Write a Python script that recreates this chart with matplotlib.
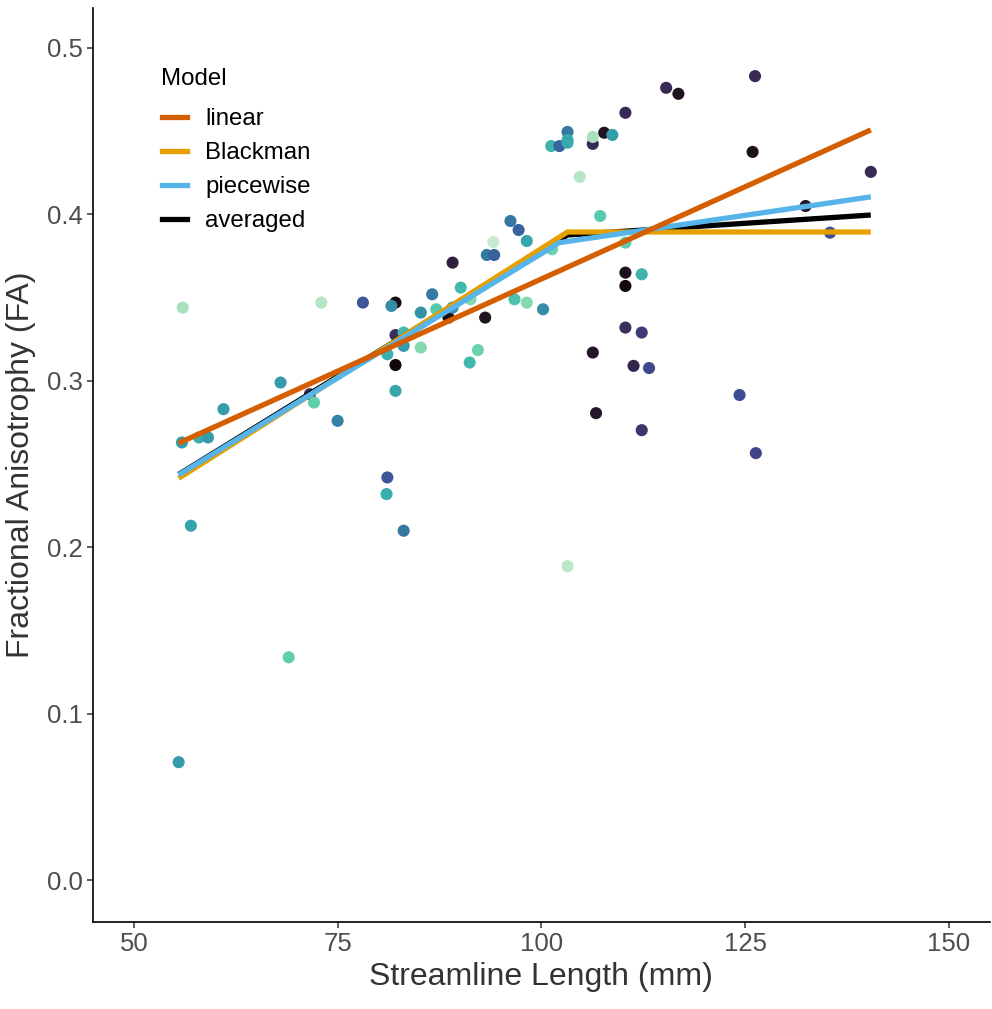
import matplotlib
matplotlib.use("Agg")
import matplotlib.pyplot as plt
import seaborn as sns
import numpy as np

plt.rcParams['font.family'] = ['Liberation Sans', 'DejaVu Sans']

# streamline length (mm), FA, and colour value (0 = dark, 1 = light) for each subject
length = [56.0, 55.9, 58.0, 59.1, 57.0, 61.0, 68.0, 71.6, 72.1, 73.0, 75.0, 69.0, 55.5,
          78.1, 82.1, 81.6, 82.1, 83.1, 83.1, 81.1, 82.1, 82.1, 85.2, 85.2, 86.6, 87.1,
          90.1, 91.3, 88.6, 89.1, 93.1, 92.2, 91.2, 83.1, 81.1, 81.0, 89.1, 93.3, 94.2,
          94.1, 96.2, 97.2, 98.2, 96.7, 98.2, 100.2, 101.3, 101.2, 102.2, 103.2, 103.2,
          103.2, 106.3, 106.3, 107.7, 108.7, 110.3, 104.7, 107.2, 115.3, 116.8, 126.2,
          125.9, 140.4, 132.4, 135.4, 124.3, 126.3, 110.3, 110.3, 110.3, 112.3, 110.3,
          112.3, 106.3, 111.3, 113.2, 106.7, 112.3, 103.2]
fa = [0.344, 0.263, 0.266, 0.266, 0.213, 0.283, 0.299, 0.292, 0.287, 0.347, 0.276, 0.134, 0.071,
      0.347, 0.347, 0.345, 0.3275, 0.329, 0.321, 0.316, 0.3095, 0.294, 0.320, 0.341, 0.352, 0.343,
      0.356, 0.349, 0.338, 0.344, 0.338, 0.3185, 0.311, 0.210, 0.242, 0.232, 0.371, 0.3756, 0.3756,
      0.3834, 0.396, 0.3906, 0.384, 0.349, 0.347, 0.343, 0.379, 0.441, 0.441, 0.4495, 0.4447,
      0.443, 0.4423, 0.4465, 0.449, 0.4477, 0.461, 0.4225, 0.399, 0.476, 0.4724, 0.483,
      0.4375, 0.4255, 0.405, 0.389, 0.2915, 0.2566, 0.383, 0.365, 0.357, 0.364, 0.332,
      0.329, 0.317, 0.309, 0.3077, 0.2806, 0.2704, 0.1887]
shade = [0.9, 0.62, 0.68, 0.62, 0.64, 0.62, 0.62, 0.2, 0.8, 0.92, 0.53, 0.8, 0.62,
         0.38, 0.05, 0.56, 0.22, 0.72, 0.62, 0.68, 0.02, 0.65, 0.85, 0.58, 0.49, 0.78,
         0.72, 0.85, 0.05, 0.56, 0.08, 0.82, 0.72, 0.49, 0.38, 0.68, 0.15, 0.49, 0.42,
         0.95, 0.49, 0.42, 0.65, 0.75, 0.85, 0.56, 0.82, 0.7, 0.42, 0.49, 0.66,
         0.66, 0.2, 0.9, 0.08, 0.62, 0.2, 0.92, 0.78, 0.2, 0.08, 0.2,
         0.07, 0.2, 0.1, 0.35, 0.35, 0.32, 0.8, 0.07, 0.02, 0.7, 0.22,
         0.28, 0.1, 0.18, 0.33, 0.1, 0.25, 0.93]

# model fits
models = ['linear', 'Blackman', 'piecewise', 'averaged']
model_colors = ['#D55E00', '#E69F00', '#56B4E9', '#000000']
linear_x = [55.5, 140.4]
linear_y = [0.2626, 0.4507]
blackman_x = [55.5, 103.2, 140.4]
blackman_y = [0.2415, 0.3894, 0.3894]
piecewise_x = [55.5, 102.2, 140.4]
piecewise_y = [0.2435, 0.383, 0.4105]
averaged_x = [55.5, 103.2, 140.4]
averaged_y = [0.2438, 0.3876, 0.3996]

fig = plt.figure(figsize=(9.92, 10.09), dpi=100)
ax = fig.add_axes([0.0938, 0.0862, 0.904, 0.906])

cmap = sns.color_palette("mako", as_cmap=True)
ax.scatter(length, fa, c=shade, cmap=cmap, vmin=0, vmax=1, s=76, linewidths=0, zorder=2)

lw = 3.8
ax.plot(averaged_x, averaged_y, color=model_colors[3], lw=lw, zorder=3, solid_capstyle='butt')
ax.plot(blackman_x, blackman_y, color=model_colors[1], lw=lw, zorder=4, solid_capstyle='butt')
ax.plot(piecewise_x, piecewise_y, color=model_colors[2], lw=lw, zorder=5, solid_capstyle='butt')
ax.plot(linear_x, linear_y, color=model_colors[0], lw=lw, zorder=6, solid_capstyle='butt')

ax.set_xlim(45, 155)
ax.set_ylim(-0.025, 0.524)
ax.set_xticks([50, 75, 100, 125, 150])
ax.set_yticks([0.0, 0.1, 0.2, 0.3, 0.4, 0.5])
ax.set_yticklabels(['0.0', '0.1', '0.2', '0.3', '0.4', '0.5'])
ax.tick_params(labelsize=18.5, labelcolor='#4D4D4D', color='#333333', length=4, width=1.1)

for s in ['top', 'right']:
    ax.spines[s].set_visible(False)
for s in ['left', 'bottom']:
    ax.spines[s].set_linewidth(1.2)
    ax.spines[s].set_color('black')

ax.set_xlabel('Streamline Length (mm)', fontsize=23, color='#333333', labelpad=4)
ax.set_ylabel('Fractional Anisotrophy (FA)', fontsize=23, color='#333333', labelpad=8)

# legend, title placed separately to get the ggplot-like gap
handles = [plt.Line2D([], [], color=c, lw=lw) for c in model_colors]
leg = ax.legend(handles, models, loc='upper left', bbox_to_anchor=(0.1633, 0.893),
                bbox_transform=fig.transFigure, frameon=False, fontsize=17.3,
                handlelength=1.05, handletextpad=0.74, labelspacing=0.50,
                borderaxespad=0, borderpad=0)
fig.text(161 / 992, 1 - 79 / 1009, 'Model', fontsize=17.3, va='center', ha='left')

fig.savefig('out.png', dpi=100)
